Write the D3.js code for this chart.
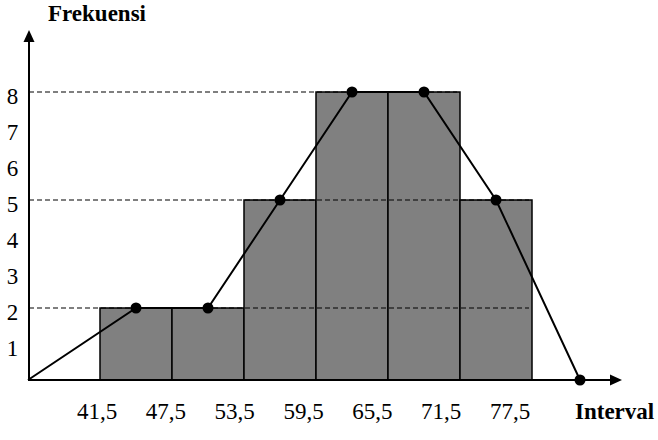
<!DOCTYPE html>
<html><head><meta charset="utf-8">
<script src="https://cdn.jsdelivr.net/npm/d3@7"></script>
<style>body{margin:0;background:#fff}svg{display:block}text{font-family:"Liberation Serif","Times New Roman",serif;fill:#000}</style>
</head><body>
<script>
const edges = [41.5, 47.5, 53.5, 59.5, 65.5, 71.5, 77.5];
const edgeLabels = ["41,5", "47,5", "53,5", "59,5", "65,5", "71,5", "77,5"];
const freq = [2, 2, 5, 8, 8, 5];
const midpoints = [44.5, 50.5, 56.5, 62.5, 68.5, 74.5];
const polyStart = 35.5, polyEnd = 81.5;
const yTicks = [1, 2, 3, 4, 5, 6, 7, 8];
const dashedLevels = [8, 5, 2];
const yTitle = "Frekuensi", xTitle = "Interval";

const W = 658, H = 440;
const svg = d3.select("body").append("svg").attr("width", W).attr("height", H);
const x = d3.scaleLinear().domain([35.5, 77.5]).range([28, 532]);
const y = d3.scaleLinear().domain([0, 8]).range([380, 92]);
const xLab = d3.scalePoint().domain(edgeLabels).range([97, 510]);

// bars
const bars = freq.map((f, i) => ({x0: edges[i], x1: edges[i + 1], f}));
svg.selectAll("rect.bar").data(bars).join("rect")
  .attr("x", d => x(d.x0)).attr("width", d => x(d.x1) - x(d.x0))
  .attr("y", d => y(d.f)).attr("height", d => y(0) - y(d.f))
  .attr("fill", "#808080").attr("stroke", "#000").attr("stroke-width", 1.5);

// dashed lines
svg.selectAll("line.dash").data(dashedLevels).join("line")
  .attr("x1", x(polyStart) + 1)
  .attr("x2", lv => { let e = 0; bars.forEach(b => { if (b.f >= lv) e = b.x1; }); return x(e) - 3; })
  .attr("y1", d => y(d)).attr("y2", d => y(d))
  .attr("stroke", "#000").attr("stroke-width", 1.2).attr("stroke-dasharray", "5,3");

// axes
const g = svg.append("g");
g.append("line").attr("x1", x(polyStart)+1).attr("x2", x(polyStart)+1).attr("y1", y(0)).attr("y2", 38)
  .attr("stroke", "#000").attr("stroke-width", 2);
g.append("path").attr("d", `M${x(polyStart)+1},30 L${x(polyStart)-4.5},42 L${x(polyStart)+6.5},42 Z`).attr("fill", "#000");
g.append("line").attr("x1", x(polyStart)).attr("x2", 614).attr("y1", y(0)).attr("y2", y(0))
  .attr("stroke", "#000").attr("stroke-width", 2);
g.append("path").attr("d", `M622,${y(0)} L610,${y(0)-5.5} L610,${y(0)+5.5} Z`).attr("fill", "#000");

// y tick labels
svg.selectAll("text.yt").data(yTicks).join("text")
  .attr("x", 12.5).attr("y", d => y(d)).attr("dy", "0.52em")
  .attr("text-anchor", "middle").attr("font-size", 23).text(d => d);

// x labels
svg.selectAll("text.xt").data(edgeLabels).join("text")
  .attr("x", d => xLab(d)).attr("y", 419)
  .attr("text-anchor", "middle").attr("font-size", 23).text(d => d);

// titles
svg.append("text").attr("x", 48).attr("y", 21).attr("font-size", 23).attr("font-weight", "bold").text(yTitle);
svg.append("text").attr("x", 575).attr("y", 419).attr("font-size", 23).attr("font-weight", "bold").text(xTitle);

// polygon
const pts = [[polyStart, 0]].concat(midpoints.map((m, i) => [m, freq[i]])).concat([[polyEnd, 0]]);
svg.append("path").datum(pts)
  .attr("d", d3.line().x(d => x(d[0])).y(d => y(d[1])))
  .attr("fill", "none").attr("stroke", "#000").attr("stroke-width", 2);
svg.selectAll("circle.pt").data(pts.slice(1)).join("circle")
  .attr("cx", d => x(d[0])).attr("cy", d => y(d[1])).attr("r", 5.5).attr("fill", "#000");
</script>
</body></html>
